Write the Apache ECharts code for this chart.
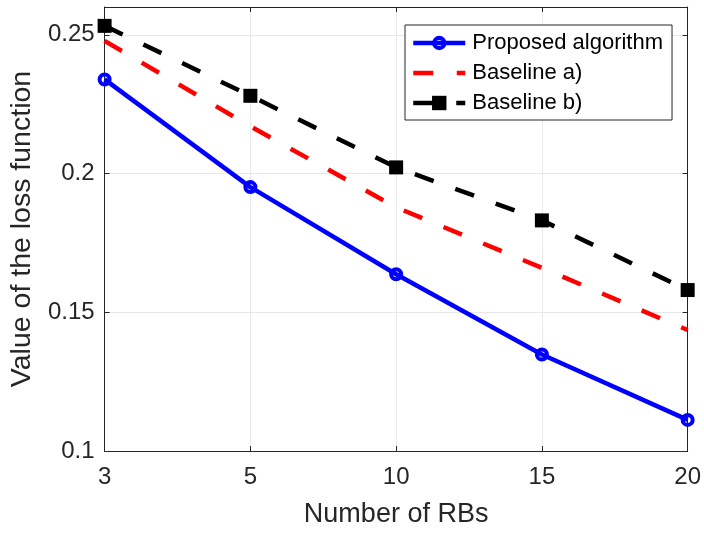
<!DOCTYPE html>
<html>
<head>
<meta charset="utf-8">
<script src="https://cdn.jsdelivr.net/npm/echarts@6/dist/echarts.min.js"></script>
<style>html,body{margin:0;padding:0;background:#fff;}#c{width:704px;height:533px;}</style>
</head>
<body>
<div id="c"></div>
<script>
const categories = ['3', '5', '10', '15', '20'];
const proposed = [0.2339, 0.1951, 0.1637, 0.1348, 0.1112];
const baselineA = [0.2478, 0.2170, 0.1878, 0.1660, 0.1436];
const baselineB = [0.2532, 0.2280, 0.2022, 0.1831, 0.1580];
const seriesNames = ['Proposed algorithm', 'Baseline a)', 'Baseline b)'];
const xName = 'Number of RBs';
const yName = 'Value of the loss function';

const FONT = '"Liberation Sans", Arial, Helvetica, sans-serif';
const AX = '#262626';
const RING = 'path://M0,-7A7,7 0 1,1 0,7A7,7 0 1,1 0,-7ZM0,-3A3,3 0 1,0 0,3A3,3 0 1,0 0,-3Z';
const DASH_ICON = 'path://M0,0H20V4.5H0ZM43.5,0H52V4.5H43.5Z';
const chart = echarts.init(document.getElementById('c'), null, {renderer: 'canvas'});
chart.setOption({
  animation: false,
  backgroundColor: '#fff',
  textStyle: {fontFamily: FONT},
  grid: {left: 103, right: 15, top: 7, bottom: 80, containLabel: false},
  legend: {
    orient: 'vertical', left: 405, top: 25,
    backgroundColor: '#fff', borderColor: AX, borderWidth: 1, borderRadius: 0,
    padding: [7, 9, 6, 6], itemGap: 8, itemWidth: 52, itemHeight: 18,
    lineStyle: {width: 4.5},
    textStyle: {fontFamily: FONT, fontSize: 22, color: '#000', padding: [0, 0, 0, 2]},
    data: [
      {name: seriesNames[0]},
      {name: seriesNames[1], icon: DASH_ICON, itemStyle: {color: '#ff0000'}},
      {name: seriesNames[2]}
    ]
  },
  xAxis: [{
    type: 'category', data: categories, boundaryGap: false,
    name: xName, nameLocation: 'middle', nameGap: 50,
    nameTextStyle: {fontFamily: FONT, fontSize: 27, color: AX},
    axisLine: {show: true, lineStyle: {color: AX, width: 1}},
    axisTick: {show: true, inside: true, length: 5, alignWithLabel: true, lineStyle: {color: AX}},
    axisLabel: {fontFamily: FONT, fontSize: 24, color: AX, margin: 14},
    splitLine: {show: true, lineStyle: {color: '#e8e8e8', width: 1}}
  }, {
    type: 'category', data: categories, boundaryGap: false, position: 'top',
    axisLine: {show: true, lineStyle: {color: AX, width: 1}},
    axisTick: {show: true, inside: true, length: 5, lineStyle: {color: AX}},
    axisLabel: {show: false}, splitLine: {show: false}
  }],
  yAxis: [{
    type: 'value', min: 0.1, max: 0.26, interval: 0.05,
    name: yName, nameLocation: 'middle', nameGap: 60, nameRotate: 90,
    nameTextStyle: {fontFamily: FONT, fontSize: 28.5, color: AX},
    axisLine: {show: true, lineStyle: {color: AX, width: 1}},
    axisTick: {show: true, inside: true, length: 5, lineStyle: {color: AX}},
    axisLabel: {fontFamily: FONT, fontSize: 24, color: AX, margin: 10, showMaxLabel: false,
      formatter: function (v) { const r = Math.round(v * 100) / 100; return (Math.abs(r * 20 - Math.round(r * 20)) < 1e-6) ? String(r) : ''; }},
    splitLine: {show: true, lineStyle: {color: '#e8e8e8', width: 1}}
  }, {
    type: 'value', min: 0.1, max: 0.26, interval: 0.05, position: 'right',
    axisLine: {show: true, lineStyle: {color: AX, width: 1}},
    axisTick: {show: true, inside: true, length: 5, lineStyle: {color: AX}},
    axisLabel: {show: false}, splitLine: {show: false}
  }],
  series: [{
    name: seriesNames[0], type: 'line', data: proposed,
    xAxisIndex: 0, yAxisIndex: 0,
    symbol: RING, symbolSize: 14, showAllSymbol: true,
    lineStyle: {color: '#0000ff', width: 4.5},
    itemStyle: {color: '#0000ff', borderWidth: 0}
  }, {
    name: seriesNames[1], type: 'line', data: baselineA,
    xAxisIndex: 0, yAxisIndex: 0,
    symbol: 'none',
    lineStyle: {color: '#ff0000', width: 4.5, type: [20, 23], cap: 'butt'},
    itemStyle: {color: '#ff0000'}
  }, {
    name: seriesNames[2], type: 'line', data: baselineB,
    xAxisIndex: 0, yAxisIndex: 0,
    symbol: 'rect', symbolSize: 14, showAllSymbol: true,
    lineStyle: {color: '#000000', width: 4.5, type: [20, 23], cap: 'butt'},
    itemStyle: {color: '#000000'}
  }]
});
</script>
</body>
</html>
